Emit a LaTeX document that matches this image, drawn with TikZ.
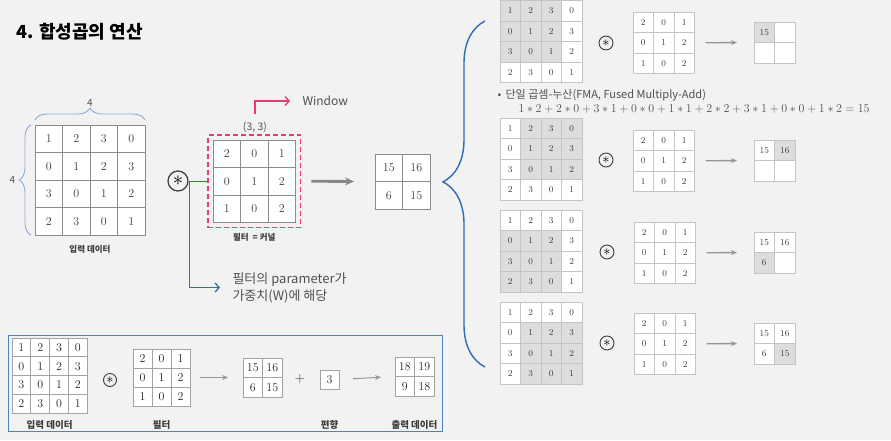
\documentclass[tikz,border=0pt]{standalone}
\usepackage{fontspec}
\usepackage{tikz}
\usetikzlibrary{arrows.meta, positioning, decorations.pathreplacing, calc, fit}
\newfontfamily\kr{Noto Sans CJK KR}
\definecolor{pagegray}{RGB}{242,242,242}
\definecolor{gridgray}{RGB}{140,140,140}
\definecolor{gridlight}{RGB}{196,196,196}
\definecolor{shadegray}{RGB}{221,221,221}
\definecolor{numgray}{RGB}{60,60,60}
\definecolor{textgray}{RGB}{80,80,80}
\definecolor{winpink}{RGB}{238,56,118}
\definecolor{noteblue}{RGB}{46,109,180}
\definecolor{bracelight}{RGB}{140,172,216}
\definecolor{arrowgray}{RGB}{150,150,150}

\tikzset{
  big line/.style={draw=gridgray, line width=1pt},
  big num/.style={font=\fontsize{12}{14}\selectfont, text=numgray},
  small line/.style={draw=gridlight, line width=0.8pt},
  small num/.style={font=\fontsize{9}{10}\selectfont, text=numgray},
  box line/.style={draw=gridgray!80, line width=0.9pt},
  box num/.style={font=\fontsize{12}{14}\selectfont, text=black!85},
  gridframe/.style={fill=white, inner sep=0pt, outer sep=0pt},
  cellshade/.style={fill=shadegray},
  convop/.style={circle, draw=numgray, line width=0.9pt, inner sep=0pt, minimum size=14pt, font=\fontsize{14}{14}\selectfont},
  lbl/.style={font=\kr\bfseries\fontsize{8.5}{10}\selectfont, text=numgray},
  flowarrow/.style={draw=arrowgray, line width=1.3pt, -{Stealth[length=6pt,width=5pt]}},
  brace/.style={decorate, decoration={brace, amplitude=#1}},
}

% one grid of cells: name, left, top, cell, n, look, rows, shaded block r1/r2/c1/c2
\newcommand{\kgrid}[8]{%
  \node[gridframe, #6 line, anchor=north west, minimum width=#5*#4, minimum height=#5*#4] (#1) at (#2,#3) {};
  \if\relax\detokenize{#8}\relax\else
    \foreach \ra/\rb/\ca/\cb in {#8}
      \fill[cellshade] ({#2+(\ca-1)*#4},{#3+(\ra-1)*#4}) rectangle ({#2+\cb*#4},{#3+\rb*#4});
  \fi
  \foreach \row [count=\r] in {#7} {
    \foreach \v [count=\c] in \row {
      \draw[#6 line] ({#2+(\c-1)*#4},{#3+(\r-1)*#4}) rectangle ++(#4,#4);
      \node[#6 num] (#1-\r-\c) at ({#2+(\c-0.5)*#4},{#3+(\r-0.5)*#4}) {\v};
    }
  }
}

\begin{document}
\begin{tikzpicture}[x=1pt, y=-1pt]
  \fill[pagegray] (0,0) rectangle (891,440);
  \useasboundingbox (0,0) rectangle (891,440);

  \node[anchor=west, font=\kr\bfseries\fontsize{18}{20}\selectfont] (title) at (13,32) {4. 합성곱의 연산};

  % --- left part: input * filter -> output
  \kgrid{in}{35}{125}{27.5}{4}{big}{{1,2,3,0},{0,1,2,3},{3,0,1,2},{2,3,0,1}}{}
  \draw[bracelight, line width=0.9pt, brace=12pt] ([yshift=5pt]in.north west) -- ([yshift=5pt]in.north east)
    node[midway, above=10pt, font=\kr\fontsize{10}{12}\selectfont, text=textgray] (topn) {4};
  \draw[bracelight, line width=0.9pt, brace=12pt] ([xshift=-4pt]in.south west) -- ([xshift=-4pt]in.north west)
    node[midway, left=12pt, font=\kr\fontsize{10}{12}\selectfont, text=textgray] (leftn) {4};
  \node[lbl, below=7pt of in] (lbl-in) {입력 데이터};

  \node[convop, line width=1.2pt, minimum size=20pt, font=\fontsize{20}{20}\selectfont] (cv) at (178,181) {$\ast$};

  \kgrid{filt}{213}{140}{27.5}{3}{big}{{2,0,1},{0,1,2},{1,0,2}}{}
  \node[draw=winpink, dash pattern=on 5pt off 3pt, line width=1.5pt, inner sep=5pt, fit=(filt)] (win) {};
  \node[font=\kr\fontsize{10.5}{12}\selectfont, text=textgray] (dims) at (255,127) {(3, 3)};
  \node[anchor=west, font=\kr\fontsize{12}{14}\selectfont, text=textgray] (window) at (299,101) {Window};
  \draw[winpink, line width=1.3pt, -{Straight Barb[length=4pt,width=9pt]}, shorten <=4pt, shorten >=9pt]
    (dims.north) |- (window.west);
  \node[lbl, below=7pt of filt] (lbl-filt) {필터 \ = 커널};

  \node[anchor=west, align=left, font=\kr\fontsize{13}{17}\selectfont, text=textgray] (note) at (229,287.5)
    {필터의 parameter가\\가중치(W)에 해당};
  \draw[noteblue, line width=1.3pt, -{Straight Barb[length=4pt,width=9pt]}, shorten >=9pt]
    (win.west) -- ++(-18,0) |- (note.west);

  \kgrid{out}{375}{154}{27.5}{2}{big}{{15,16},{6,15}}{}
  \draw[arrowgray!90!black, line width=2.8pt, -{Stealth[length=9pt,width=8pt]}, shorten <=10pt, shorten >=21pt]
    (win.east) -- (out.west);

  % big brace to the four steps
  \coordinate (bbot) at (485,367);
  \coordinate (btop) at (485,21);
  \draw[noteblue, line width=1.4pt, brace=42pt, decoration={aspect=0.535}] (bbot) -- (btop);

  % --- right part: the window slides
  \kgrid{in1}{500}{0.5}{20.5}{4}{small}{{1,2,3,0},{0,1,2,3},{3,0,1,2},{2,3,0,1}}{1/3/1/3}
  \node[convop] (cv1) at (606,43) {$\ast$};
  \kgrid{f1}{633}{12}{20.5}{3}{small}{{2,0,1},{0,1,2},{1,0,2}}{}
  \kgrid{o1}{754}{22}{20.5}{2}{small}{{15,\relax},{\relax,\relax}}{1/1/1/1}
  \draw[flowarrow, shorten <=11pt, shorten >=17pt] (f1.east) -- (o1.west);

  \node[anchor=west, font=\kr\fontsize{11}{13}\selectfont, text=textgray] (fma) at (494,95)
    {•\, 단일 곱셈-누산(FMA, Fused Multiply-Add)};
  \node[anchor=west, font=\fontsize{12.5}{14}\selectfont, text=textgray] (eq) at (515,109)
    {$1 \ast 2 + 2 \ast 0 + 3 \ast 1 + 0 \ast 0 + 1 \ast 1 + 2 \ast 2 + 3 \ast 1 + 0 \ast 0 + 1 \ast 2 = 15$};

  \kgrid{in2}{500}{118}{20.5}{4}{small}{{1,2,3,0},{0,1,2,3},{3,0,1,2},{2,3,0,1}}{1/3/2/4}
  \node[convop] (cv2) at (606,160) {$\ast$};
  \kgrid{f2}{633}{130}{20.5}{3}{small}{{2,0,1},{0,1,2},{1,0,2}}{}
  \kgrid{o2}{754}{140}{20.5}{2}{small}{{15,16},{\relax,\relax}}{1/1/2/2}
  \draw[flowarrow, shorten <=11pt, shorten >=17pt] (f2.east) -- (o2.west);

  \kgrid{in3}{500}{210}{20.5}{4}{small}{{1,2,3,0},{0,1,2,3},{3,0,1,2},{2,3,0,1}}{2/4/1/3}
  \node[convop] (cv3) at (607,252) {$\ast$};
  \kgrid{f3}{634}{222}{20.5}{3}{small}{{2,0,1},{0,1,2},{1,0,2}}{}
  \kgrid{o3}{754}{232}{20.5}{2}{small}{{15,16},{6,\relax}}{2/2/1/1}
  \draw[flowarrow, shorten <=11pt, shorten >=17pt] (f3.east) -- (o3.west);

  \kgrid{in4}{500}{302}{20.5}{4}{small}{{1,2,3,0},{0,1,2,3},{3,0,1,2},{2,3,0,1}}{2/4/2/4}
  \node[convop] (cv4) at (607,343) {$\ast$};
  \kgrid{f4}{634}{313}{20.5}{3}{small}{{2,0,1},{0,1,2},{1,0,2}}{}
  \kgrid{o4}{754}{323}{20.5}{2}{small}{{15,16},{6,15}}{2/2/2/2}
  \draw[flowarrow, shorten <=11pt, shorten >=17pt] (f4.east) -- (o4.west);

  % --- bottom summary with bias
  \draw[noteblue!85, line width=1pt] (8,335) rectangle (442,431);
  \kgrid{bin}{12}{338}{18.8}{4}{box}{{1,2,3,0},{0,1,2,3},{3,0,1,2},{2,3,0,1}}{}
  \node[convop, minimum size=13pt] (bcv) at (110,380) {$\ast$};
  \kgrid{bfilt}{133}{349}{19}{3}{box}{{2,0,1},{0,1,2},{1,0,2}}{}
  \kgrid{bout}{243}{358}{19.5}{2}{box}{{15,16},{6,15}}{}
  \node[font=\fontsize{14}{16}\selectfont, text=numgray] (plus) at (300,379) {+};
  \kgrid{bias}{320}{370}{19}{1}{box}{{3}}{}
  \kgrid{bres}{395}{357}{19.5}{2}{box}{{18,19},{9,18}}{}
  \draw[flowarrow, line width=1pt, shorten <=10pt, shorten >=15pt] (bfilt.east) -- (bout.west);
  \draw[flowarrow, line width=1pt, shorten <=14pt, shorten >=14pt] (bias.east) -- (bres.west);
  \node[lbl, font=\kr\bfseries\fontsize{9.5}{11}\selectfont] (blbl-in) at (bin.south |- 0,425) {입력 데이터};
  \node[lbl, font=\kr\bfseries\fontsize{9.5}{11}\selectfont] (blbl-filt) at (bfilt.south |- 0,425) {필터};
  \node[lbl, font=\kr\bfseries\fontsize{9.5}{11}\selectfont] (blbl-bias) at (bias.south |- 0,425) {편향};
  \node[lbl, font=\kr\bfseries\fontsize{9.5}{11}\selectfont] (blbl-res) at (bres.south |- 0,425) {출력 데이터};
\end{tikzpicture}
\end{document}
